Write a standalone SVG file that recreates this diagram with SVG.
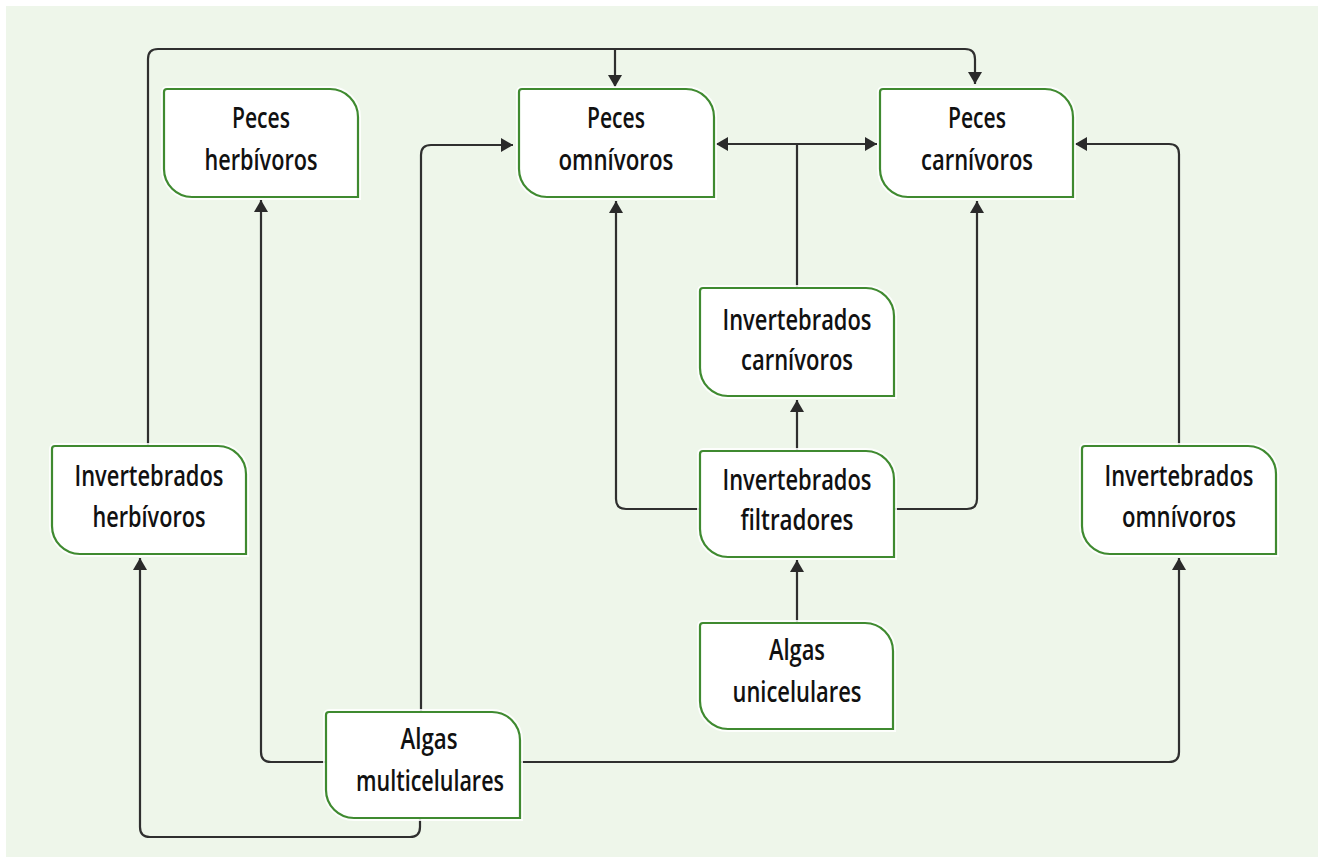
<svg xmlns="http://www.w3.org/2000/svg" width="1320" height="860" viewBox="0 0 1320 860">
<defs>
<style>
.bg{fill:#eef6ea}
.halo{fill:none;stroke:#ffffff;stroke-width:6;stroke-opacity:0.85}
.box{fill:#ffffff;stroke:#3f8a30;stroke-width:2.2}
.lbl{font-family:"Open Sans","Liberation Sans",sans-serif;font-weight:600;font-size:28px;fill:#111111;text-anchor:middle}
.con{fill:none;stroke:#2f2f2f;stroke-width:2.2}
</style>
<marker id="arr" markerUnits="userSpaceOnUse" markerWidth="12" markerHeight="14" viewBox="0 0 12 14" refX="12" refY="7" orient="auto">
<path d="M0,0 L12,7 L0,14 Z" fill="#2a2a2a"/>
</marker>
</defs>
<rect x="0" y="0" width="1320" height="860" fill="#ffffff"/>
<rect class="bg" x="6" y="6" width="1312" height="851"/>

<g id="connectors">
<path class="con" d="M148,446 V59 Q148,49 158,49 H965 Q975,49 975,59 V84" marker-end="url(#arr)"/>
<path class="con" d="M615,49 V87" marker-end="url(#arr)"/>
<path class="con" d="M326,762 H271 Q261,762 261,752 V200" marker-end="url(#arr)"/>
<path class="con" d="M420,818 V827 Q420,837 410,837 H150 Q140,837 140,827 V558" marker-end="url(#arr)"/>
<path class="con" d="M421,712 V155 Q421,145 431,145 H513" marker-end="url(#arr)"/>
<path class="con" d="M520,762 H1169 Q1179,762 1179,752 V558" marker-end="url(#arr)"/>
<path class="con" d="M1179,446 V154 Q1179,144 1169,144 H1075" marker-end="url(#arr)"/>
<path class="con" d="M797,288 V144"/>
<path class="con" d="M797,144 H716" marker-end="url(#arr)"/>
<path class="con" d="M797,144 H877" marker-end="url(#arr)"/>
<path class="con" d="M797,451 V400" marker-end="url(#arr)"/>
<path class="con" d="M700,509 H626 Q616,509 616,499 V201" marker-end="url(#arr)"/>
<path class="con" d="M894,509 H967 Q977,509 977,499 V201" marker-end="url(#arr)"/>
<path class="con" d="M797,623 V560" marker-end="url(#arr)"/>
</g>

<g id="peces-herbivoros">
<path class="halo" d="M167,89 H330 A28,28 0 0 1 358,117 V197 H192 A28,28 0 0 1 164,169 V92 A3,3 0 0 1 167,89 Z"/>
<path class="box" d="M167,89 H330 A28,28 0 0 1 358,117 V197 H192 A28,28 0 0 1 164,169 V92 A3,3 0 0 1 167,89 Z"/>
<text class="lbl" x="261" y="128" textLength="58" lengthAdjust="spacingAndGlyphs">Peces</text>
<text class="lbl" x="261" y="170" textLength="113" lengthAdjust="spacingAndGlyphs">herbívoros</text>
</g>

<g id="peces-omnivoros">
<path class="halo" d="M522,89 H686 A28,28 0 0 1 714,117 V197 H547 A28,28 0 0 1 519,169 V92 A3,3 0 0 1 522,89 Z"/>
<path class="box" d="M522,89 H686 A28,28 0 0 1 714,117 V197 H547 A28,28 0 0 1 519,169 V92 A3,3 0 0 1 522,89 Z"/>
<text class="lbl" x="616" y="128" textLength="58" lengthAdjust="spacingAndGlyphs">Peces</text>
<text class="lbl" x="616" y="170" textLength="115" lengthAdjust="spacingAndGlyphs">omnívoros</text>
</g>

<g id="peces-carnivoros">
<path class="halo" d="M883,89 H1045 A28,28 0 0 1 1073,117 V197 H908 A28,28 0 0 1 880,169 V92 A3,3 0 0 1 883,89 Z"/>
<path class="box" d="M883,89 H1045 A28,28 0 0 1 1073,117 V197 H908 A28,28 0 0 1 880,169 V92 A3,3 0 0 1 883,89 Z"/>
<text class="lbl" x="977" y="128" textLength="58" lengthAdjust="spacingAndGlyphs">Peces</text>
<text class="lbl" x="977" y="170" textLength="112" lengthAdjust="spacingAndGlyphs">carnívoros</text>
</g>

<g id="invertebrados-herbivoros">
<path class="halo" d="M55,446 H218 A28,28 0 0 1 246,474 V554 H80 A28,28 0 0 1 52,526 V449 A3,3 0 0 1 55,446 Z"/>
<path class="box" d="M55,446 H218 A28,28 0 0 1 246,474 V554 H80 A28,28 0 0 1 52,526 V449 A3,3 0 0 1 55,446 Z"/>
<text class="lbl" x="149" y="486" textLength="149" lengthAdjust="spacingAndGlyphs">Invertebrados</text>
<text class="lbl" x="149" y="527" textLength="113" lengthAdjust="spacingAndGlyphs">herbívoros</text>
</g>

<g id="invertebrados-carnivoros">
<path class="halo" d="M703,288 H866 A28,28 0 0 1 894,316 V396 H728 A28,28 0 0 1 700,368 V291 A3,3 0 0 1 703,288 Z"/>
<path class="box" d="M703,288 H866 A28,28 0 0 1 894,316 V396 H728 A28,28 0 0 1 700,368 V291 A3,3 0 0 1 703,288 Z"/>
<text class="lbl" x="797" y="330" textLength="149" lengthAdjust="spacingAndGlyphs">Invertebrados</text>
<text class="lbl" x="797" y="370" textLength="112" lengthAdjust="spacingAndGlyphs">carnívoros</text>
</g>

<g id="invertebrados-filtradores">
<path class="halo" d="M703,451 H866 A28,28 0 0 1 894,479 V557 H728 A28,28 0 0 1 700,529 V454 A3,3 0 0 1 703,451 Z"/>
<path class="box" d="M703,451 H866 A28,28 0 0 1 894,479 V557 H728 A28,28 0 0 1 700,529 V454 A3,3 0 0 1 703,451 Z"/>
<text class="lbl" x="797" y="490" textLength="149" lengthAdjust="spacingAndGlyphs">Invertebrados</text>
<text class="lbl" x="797" y="530" textLength="113" lengthAdjust="spacingAndGlyphs">filtradores</text>
</g>

<g id="invertebrados-omnivoros">
<path class="halo" d="M1085,446 H1248 A28,28 0 0 1 1276,474 V554 H1110 A28,28 0 0 1 1082,526 V449 A3,3 0 0 1 1085,446 Z"/>
<path class="box" d="M1085,446 H1248 A28,28 0 0 1 1276,474 V554 H1110 A28,28 0 0 1 1082,526 V449 A3,3 0 0 1 1085,446 Z"/>
<text class="lbl" x="1179" y="486" textLength="149" lengthAdjust="spacingAndGlyphs">Invertebrados</text>
<text class="lbl" x="1179" y="527" textLength="114" lengthAdjust="spacingAndGlyphs">omnívoros</text>
</g>

<g id="algas-unicelulares">
<path class="halo" d="M703,623 H865 A28,28 0 0 1 893,651 V729 H728 A28,28 0 0 1 700,701 V626 A3,3 0 0 1 703,623 Z"/>
<path class="box" d="M703,623 H865 A28,28 0 0 1 893,651 V729 H728 A28,28 0 0 1 700,701 V626 A3,3 0 0 1 703,623 Z"/>
<text class="lbl" x="797" y="660" textLength="56" lengthAdjust="spacingAndGlyphs">Algas</text>
<text class="lbl" x="797" y="702" textLength="129" lengthAdjust="spacingAndGlyphs">unicelulares</text>
</g>

<g id="algas-multicelulares">
<path class="halo" d="M329,712 H492 A28,28 0 0 1 520,740 V818 H354 A28,28 0 0 1 326,790 V715 A3,3 0 0 1 329,712 Z"/>
<path class="box" d="M329,712 H492 A28,28 0 0 1 520,740 V818 H354 A28,28 0 0 1 326,790 V715 A3,3 0 0 1 329,712 Z"/>
<text class="lbl" x="429" y="749" textLength="57" lengthAdjust="spacingAndGlyphs">Algas</text>
<text class="lbl" x="430" y="791" textLength="148" lengthAdjust="spacingAndGlyphs">multicelulares</text>
</g>
</svg>
